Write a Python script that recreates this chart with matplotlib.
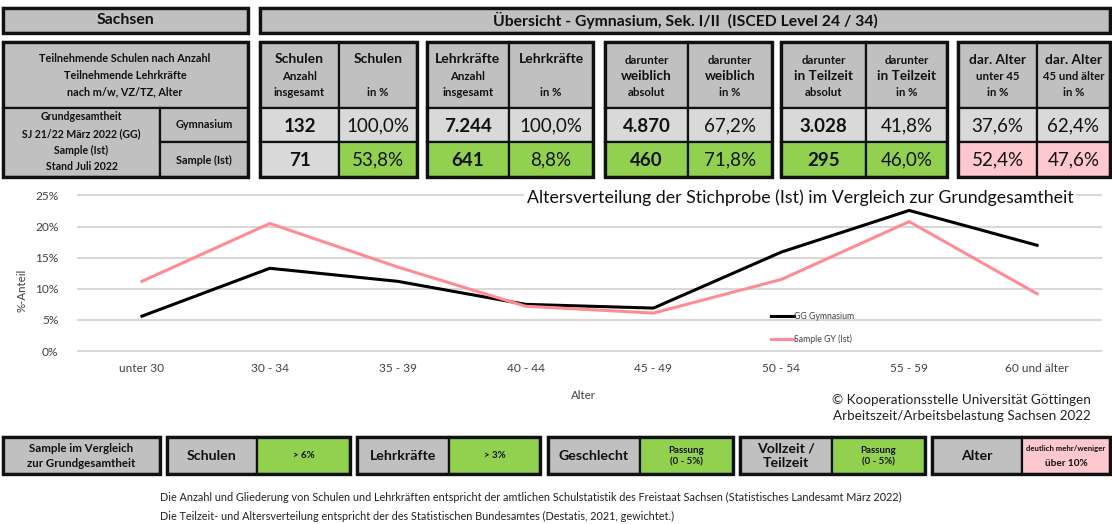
import matplotlib
matplotlib.use('Agg')
import matplotlib.pyplot as plt
from matplotlib.patches import Rectangle

plt.rcParams['font.family'] = ['Lato', 'DejaVu Sans']

# ---------------- data ----------------
categories = ["unter 30", "30 - 34", "35 - 39", "40 - 44", "45 - 49", "50 - 54", "55 - 59", "60 und älter"]
gg_gymnasium = [5.6, 13.3, 11.2, 7.5, 6.9, 15.9, 22.6, 17.0]
sample_gy = [11.2, 20.5, 13.5, 7.2, 6.1, 11.5, 20.8, 9.2]
y_ticks = [0, 5, 10, 15, 20, 25]

chart_title = "Altersverteilung der Stichprobe (Ist) im Vergleich zur Grundgesamtheit"
top_left_title = "Sachsen"
top_right_title = "Übersicht - Gymnasium, Sek. I/II  (ISCED Level 24 / 34)"

left_header = ["Teilnehmende Schulen nach Anzahl", "Teilnehmende Lehrkräfte", "nach m/w, VZ/TZ, Alter"]
row_group_label = ["Grundgesamtheit", "SJ 21/22 März 2022 (GG)", "Sample (Ist)", "Stand Juli 2022"]
row_labels = ["Gymnasium", "Sample (Ist)"]

# header lines per column: (top, middle, bottom)
col_headers = [
    ("Schulen", "Anzahl", "insgesamt"),
    ("Schulen", "", "in %"),
    ("Lehrkräfte", "Anzahl", "insgesamt"),
    ("Lehrkräfte", "", "in %"),
    ("darunter", "weiblich", "absolut"),
    ("darunter", "weiblich", "in %"),
    ("darunter", "in Teilzeit", "absolut"),
    ("darunter", "in Teilzeit", "in %"),
    ("dar. Alter", "unter 45", "in %"),
    ("dar. Alter", "45 und älter", "in %"),
]
row_gg = ["132", "100,0%", "7.244", "100,0%", "4.870", "67,2%", "3.028", "41,8%", "37,6%", "62,4%"]
row_sample = ["71", "53,8%", "641", "8,8%", "460", "71,8%", "295", "46,0%", "52,4%", "47,6%"]
sample_status = ["grey", "ok", "ok", "ok", "ok", "ok", "ok", "ok", "bad", "bad"]

bottom_labels = ["Schulen", "Lehrkräfte", "Geschlecht", "Vollzeit /\nTeilzeit", "Alter"]
bottom_values = ["> 6%", "> 3%", "Passung\n(0 - 5%)", "Passung\n(0 - 5%)", "deutlich mehr/weniger\nüber 10%"]
bottom_status = ["ok", "ok", "ok", "ok", "bad"]
bottom_intro = "Sample im Vergleich\nzur Grundgesamtheit"

copyright_lines = ["© Kooperationsstelle Universität Göttingen", "Arbeitszeit/Arbeitsbelastung Sachsen 2022"]
footnotes = [
    "Die Anzahl und Gliederung von Schulen und Lehrkräften entspricht der amtlichen Schulstatistik des Freistaat Sachsen (Statistisches Landesamt März 2022)",
    "Die Teilzeit- und Altersverteilung entspricht der des Statistischen Bundesamtes (Destatis, 2021, gewichtet.)",
]

# ---------------- style ----------------
W, H = 1112, 524
GREY = '#C0C0C0'
LIGHT = '#D9D9D9'
GREEN = '#92D050'
PINK = '#FFC7CE'
EDGE = '#111111'
status_color = {"grey": LIGHT, "ok": GREEN, "bad": PINK}

fig = plt.figure(figsize=(W / 100, H / 100), dpi=100)
bg = fig.add_axes([0, 0, 1, 1])
bg.set_xlim(0, W)
bg.set_ylim(H, 0)
bg.axis('off')


def cell(x0, x1, y0, y1, color, lw=1.6):
    bg.add_patch(Rectangle((x0, y0), x1 - x0, y1 - y0, facecolor=color, edgecolor=EDGE, lw=lw, zorder=2))


def outline(x0, x1, y0, y1, lw=2.4):
    bg.add_patch(Rectangle((x0, y0), x1 - x0, y1 - y0, facecolor='none', edgecolor=EDGE, lw=lw, zorder=3))


def txt(x, y, s, size, bold=True, ha='center', color='#111111', **kw):
    bg.text(x, y, s, fontsize=size, fontweight='bold' if bold else 'normal', ha=ha, va='center',
            color=color, zorder=4, **kw)


# top title row
cell(3, 248, 8, 33, GREY)
outline(3, 248, 8, 33)
txt(125, 20, top_left_title, 11.3)
cell(260, 1110, 8, 33, GREY)
outline(260, 1110, 8, 33)
txt(685, 20, top_right_title, 11.3)

# left block
HT, HB, RM, RB = 42, 108, 142, 177
cell(3, 248, HT, HB, GREY)
for i, s in enumerate(left_header):
    txt(125, 59 + i * 16.5, s, 7.8)
cell(3, 160, HB, RB, GREY)
cell(160, 248, HB, RM, GREY)
cell(160, 248, RM, RB, GREY)
for i, s in enumerate(row_group_label):
    txt(81.5, 117 + i * 16.5, s, 7.6)
txt(204, 125, row_labels[0], 7.8)
txt(204, 160, row_labels[1], 7.8)
outline(3, 248, HT, RB)

# data blocks
blocks = [(260, 339, 417), (427, 509, 593), (605, 688, 772), (781, 866, 947), (958, 1037, 1110)]
SMALL = 8.2
for b, (x0, xm, x1) in enumerate(blocks):
    for c, (a, m) in enumerate([(x0, xm), (xm, x1)]):
        k = b * 2 + c
        cx = (a + m) / 2
        cell(a, m, HT, HB, GREY)
        top, mid, bot = col_headers[k]
        if b < 2:
            txt(cx, 59, top, 10)
            if mid:
                txt(cx, 76.5, mid, SMALL)
            txt(cx, 93, bot, SMALL)
        elif b < 4:
            txt(cx, 60, top, SMALL)
            txt(cx, 76, mid, 9.8)
            txt(cx, 93, bot, SMALL)
        else:
            txt(cx, 60, top, 9.8)
            txt(cx, 76, mid, SMALL)
            txt(cx, 93, bot, SMALL)
        bold_val = (c == 0 and b < 4)
        cell(a, m, HB, RM, LIGHT)
        txt(cx, 126, row_gg[k], 13.5, bold=bold_val)
        cell(a, m, RM, RB, status_color[sample_status[k]])
        txt(cx, 160, row_sample[k], 13.5, bold=bold_val)
    outline(x0, x1, HT, RB)

# bottom row
BT, BB = 437, 474
cell(3, 160, BT, BB, GREY)
outline(3, 160, BT, BB)
txt(81.5, 456, bottom_intro, 8.3, linespacing=1.35)
bottom_boxes = [(167, 257, 350), (357, 449, 540), (548, 640, 733), (740, 832, 925), (932, 1022, 1110)]
for i, (x0, xm, x1) in enumerate(bottom_boxes):
    cell(x0, xm, BT, BB, GREY)
    cell(xm, x1, BT, BB, status_color[bottom_status[i]])
    outline(x0, x1, BT, BB)
    txt((x0 + xm) / 2, 456, bottom_labels[i], 10.2, linespacing=1.25)
    if i < 2:
        txt((xm + x1) / 2, 456, bottom_values[i], 7)
    elif i < 4:
        txt((xm + x1) / 2, 456, bottom_values[i], 7, linespacing=1.4)
    else:
        l1, l2 = bottom_values[i].split("\n")
        txt((xm + x1) / 2, 449, l1, 5.6)
        txt((xm + x1) / 2, 463, l2, 7.2)

# footnotes and copyright
for i, s in enumerate(footnotes):
    txt(160, 497 + i * 19, s, 7.85, bold=False, ha='left', color='#222222')
for i, s in enumerate(copyright_lines):
    txt(1091, 400 + i * 16, s, 9.7, bold=False, ha='right', color='#222222')

# ---------------- chart ----------------
ax = fig.add_axes([78 / W, (H - 351) / H, (1101 - 78) / W, (351 - 195.5) / H])
ax.set_facecolor('none')
x = list(range(len(categories)))
l1, = ax.plot(x, gg_gymnasium, color='black', lw=2.2, solid_joinstyle='round', zorder=3, label="GG Gymnasium")
l2, = ax.plot(x, sample_gy, color='#FF8C94', lw=2.2, solid_joinstyle='round', zorder=3, label="Sample GY (Ist)")
ax.set_xlim(-0.5, len(categories) - 0.5)
ax.set_ylim(0, 25)
ax.set_yticks(y_ticks)
ax.set_yticklabels([f"{v}%" for v in y_ticks])
ax.set_xticks(x)
ax.set_xticklabels(categories)
ax.tick_params(axis='both', length=0, labelsize=8.6, labelcolor='#404040')
ax.tick_params(axis='y', pad=14)
ax.tick_params(axis='x', pad=9)
ax.yaxis.grid(True, color='#D9D9D9', lw=1.5, zorder=0)
for gl in ax.get_ygridlines():
    gl.set_clip_on(False)
for sp in ax.spines.values():
    sp.set_visible(False)
ax.set_ylabel("%-Anteil", fontsize=8.3, color='#404040')
ax.yaxis.set_label_coords(-0.049, 0.39)
ax.set_xlabel("Alter", fontsize=8.3, color='#404040')
ax.xaxis.set_label_coords(0.4937, -0.25)

leg = ax.legend(handles=[l1, l2], loc='upper left', bbox_to_anchor=(771 / W, 1 - 312 / H),
                bbox_transform=fig.transFigure, frameon=False, fontsize=6.3, handlelength=2.6,
                handletextpad=0.05, labelspacing=1.5, borderaxespad=0, borderpad=0)
for t in leg.get_texts():
    t.set_color('#404040')

bg.set_zorder(1)
ax.set_zorder(2)
fig.text(800 / W, 1 - 198 / H, chart_title, fontsize=12.8, ha='center', va='center', color='#111111',
         zorder=10, bbox=dict(facecolor='white', edgecolor='none', pad=1.5))

fig.savefig('out.png', dpi=100)
